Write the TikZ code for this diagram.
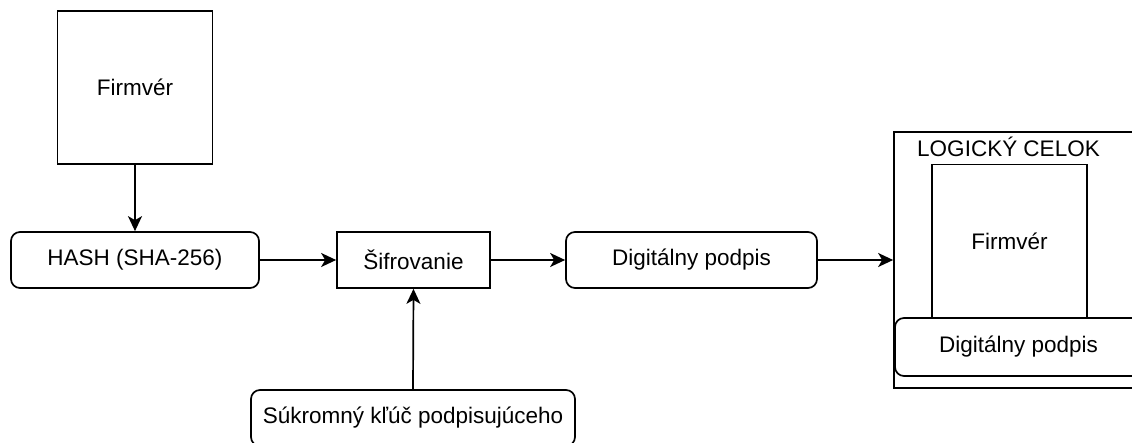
\documentclass[tikz,border=0pt]{standalone}
\usepackage{fontspec}
\setmainfont{Liberation Sans}
\usetikzlibrary{arrows.meta}
\begin{document}
\begin{tikzpicture}[x=1pt,y=-1pt,
  box/.style={draw=black,line width=1.7pt,fill=white,inner sep=0pt,
    font=\fontsize{22.5}{27}\selectfont},
  rbox/.style={box,rounded corners=9pt},
  lbl/.style={inner sep=0pt,font=\fontsize{22.5}{27}\selectfont},
  conn/.style={line width=1.7pt,-{Stealth[length=15pt,width=14pt,inset=4pt]}}
]
\useasboundingbox (0,0) rectangle (1132,443);
\clip (0,0) rectangle (1132,443);
% top firmware
\node[box,minimum width=155pt,minimum height=153pt] (fw) at (135,87.5) {Firmvér};
\node[rbox,minimum width=248pt,minimum height=56pt] (hash) at (135,260) {HASH (SHA-256)};
\node[box,minimum width=153pt,minimum height=56pt] (sif) at (413.5,260) {Šifrovanie};
\node[rbox,minimum width=251pt,minimum height=56pt] (dp) at (691.5,260) {Digitálny podpis};
\node[rbox,minimum width=324pt,minimum height=56pt] (key) at (413,418) {Súkromný kľúč podpisujúceho};
% logical unit
\node[box,minimum width=280pt,minimum height=256pt] (lc) at (1034,260) {};
\node[lbl] (lct) at (1008.5,147) {LOGICKÝ CELOK};
\node[box,minimum width=155pt,minimum height=153pt] (fw2) at (1009.5,241) {Firmvér};
\node[rbox,minimum width=270pt,minimum height=58pt] (dp2) at (1030,347) {};
\node[lbl] (dp2t) at (1018.5,347) {Digitálny podpis};
% connectors
\draw[conn] (fw.south) -- (hash.north);
\draw[conn] (hash.east) -- (sif.west);
\draw[conn] (sif.east) -- (dp.west);
\draw[conn] (dp.east) -- (lc.west);
\draw[conn] (key.north) -- (sif.south);
\end{tikzpicture}
\end{document}
